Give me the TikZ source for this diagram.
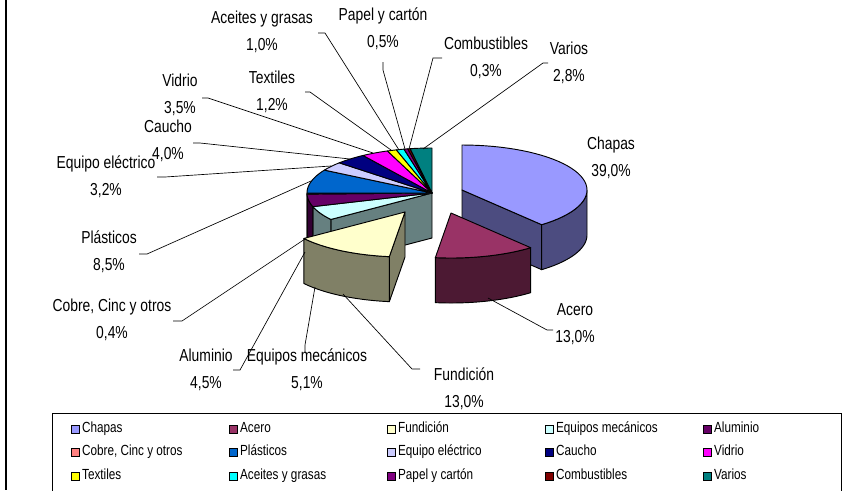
\documentclass[tikz,border=0pt]{standalone}
\usepackage{fontspec}
\setmainfont{Liberation Sans}[FakeStretch=0.8]
\usepackage{xcolor}
\usetikzlibrary{positioning}
\definecolor{ColChapas}{RGB}{153,153,255}
\definecolor{ColAcero}{RGB}{153,51,102}
\definecolor{ColFundicion}{RGB}{255,255,204}
\definecolor{ColEquipos}{RGB}{204,255,255}
\definecolor{ColAluminio}{RGB}{102,0,102}
\definecolor{ColCobre}{RGB}{255,128,128}
\definecolor{ColPlasticos}{RGB}{0,102,204}
\definecolor{ColElectrico}{RGB}{204,204,255}
\definecolor{ColCaucho}{RGB}{0,0,128}
\definecolor{ColVidrio}{RGB}{255,0,255}
\definecolor{ColTextiles}{RGB}{255,255,0}
\definecolor{ColAceites}{RGB}{0,255,255}
\definecolor{ColPapel}{RGB}{128,0,128}
\definecolor{ColCombus}{RGB}{128,0,0}
\definecolor{ColVarios}{RGB}{0,128,128}

\newcommand\pierx{125}
\newcommand\piery{45}
\newcommand\piedep{45}
\newcommand\pietop[5]{%
  \filldraw[face, fill=#5] (#1,#2) -- plot[domain=#3:#4, samples=40] ({#1+\pierx*sin(\x)},{#2-\piery*cos(\x)}) -- cycle;}
\newcommand\pieside[5]{%
  \filldraw[face, fill=#5!50!black] plot[domain=#3:#4, samples=30] ({#1+\pierx*sin(\x)},{#2-\piery*cos(\x)})
    -- plot[domain=0:1, samples=30] ({#1+\pierx*sin(#4+(#3-#4)*\x)},{#2+\piedep-\piery*cos(#4+(#3-#4)*\x)}) -- cycle;}
\newcommand\pieradial[4]{%
  \filldraw[face, fill=#4!50!black] (#1,#2) -- ({#1+\pierx*sin(#3)},{#2-\piery*cos(#3)})
    -- ++(0,\piedep) -- (#1,{#2+\piedep}) -- cycle;}

\begin{document}
\begin{tikzpicture}[x=0.75pt, y=-0.75pt,
    face/.style={draw=black, line width=0.7pt, line join=round},
    leader/.style={draw=black, line width=0.5pt},
    lbl/.style={align=center, inner sep=0pt, font=\fontsize{13}{20}\selectfont},
    legkey/.style={draw=black, line width=0.5pt, minimum size=5.8pt, inner sep=0pt},
    legtxt/.style={inner sep=0pt, text height=7.6pt, text depth=2.4pt, font=\fontsize{11}{13}\selectfont}
  ]
  \useasboundingbox (0,0) rectangle (848,490);
  \draw[line width=0.8pt] (6,0) -- (6,490);

  \pieradial{432}{193}{234}{ColEquipos}
  \pieside{432}{193}{234}{252.36}{ColEquipos}
  \pieside{432}{193}{252.36}{268.56}{ColAluminio}
  \pieside{432}{193}{268.56}{270}{ColCobre}
  \foreach \a/\b/\c in {234/252.36/ColEquipos, 252.36/268.56/ColAluminio, 268.56/270/ColCobre,
      270/300.6/ColPlasticos, 300.6/312.12/ColElectrico, 312.12/326.52/ColCaucho,
      326.52/339.12/ColVidrio, 339.12/343.44/ColTextiles, 343.44/347.04/ColAceites,
      347.04/348.84/ColPapel, 348.84/349.92/ColCombus, 349.92/360/ColVarios}
    {\pietop{432}{193}{\a}{\b}{\c}}

  \pieradial{462}{190}{140.4}{ColChapas}
  \pieside{462}{190}{90}{140.4}{ColChapas}
  \pietop{462}{190}{0}{140.4}{ColChapas}

  \pieradial{405}{212}{187.2}{ColFundicion}
  \pieside{405}{212}{187.2}{234}{ColFundicion}
  \pietop{405}{212}{187.2}{234}{ColFundicion}

  \pieside{451}{213}{140.4}{187.2}{ColAcero}
  \pietop{451}{213}{140.4}{187.2}{ColAcero}

  \node[lbl] (lChapas) at (611,158) {Chapas\\39,0\%};
  \node[lbl] (lAcero) at (575,324) {Acero\\13,0\%};
  \node[lbl] (lFundicion) at (464,389) {Fundición\\13,0\%};
  \node[lbl] (lEquipos) at (307,370) {Equipos mecánicos\\5,1\%};
  \node[lbl] (lAluminio) at (206,370) {Aluminio\\4,5\%};
  \node[lbl] (lCobre) at (112,320) {Cobre, Cinc y otros\\0,4\%};
  \node[lbl] (lPlasticos) at (109,252) {Plásticos\\8,5\%};
  \node[lbl] (lElectrico) at (106,177) {Equipo eléctrico\\3,2\%};
  \node[lbl] (lCaucho) at (168,141) {Caucho\\4,0\%};
  \node[lbl] (lVidrio) at (180,95) {Vidrio\\3,5\%};
  \node[lbl] (lTextiles) at (272,92) {Textiles\\1,2\%};
  \node[lbl] (lAceites) at (262,32) {Aceites y grasas\\1,0\%};
  \node[lbl] (lPapel) at (383,29) {Papel y cartón\\0,5\%};
  \node[lbl] (lCombus) at (486,58) {Combustibles\\0,3\%};
  \node[lbl] (lVarios) at (569,63) {Varios\\2,8\%};

  \coordinate (tAcero) at (553,330);      \coordinate (pAcero) at (488,298);
  \coordinate (tFundicion) at (420,369);  \coordinate (pFundicion) at (343,294);
  \coordinate (tEquipos) at (305,352);    \coordinate (pEquipos) at (315,287);
  \coordinate (tAluminio) at (233,370);   \coordinate (pAluminio) at (305,252);
  \coordinate (tCobre) at (173,321);      \coordinate (pCobre) at (305,239);
  \coordinate (tPlasticos) at (139,254);  \coordinate (pPlasticos) at (311,181);
  \coordinate (tElectrico) at (157,177);  \coordinate (pElectrico) at (331,166);
  \coordinate (tCaucho) at (193,143);     \coordinate (pCaucho) at (350,159);
  \coordinate (tVidrio) at (202,98);      \coordinate (pVidrio) at (373,153);
  \coordinate (tTextiles) at (305,92);    \coordinate (pTextiles) at (391,150);
  \coordinate (tAceites) at (318,33);     \coordinate (pAceites) at (399,150);
  \coordinate (tPapel) at (383,62);       \coordinate (pPapel) at (405,149);
  \coordinate (tCombus) at (442,58);      \coordinate (pCombus) at (409,149);
  \coordinate (tVarios) at (548,63);      \coordinate (pVarios) at (423,149);

  \draw[leader] (tAcero) -- ++(-6,0) -- (pAcero);
  \draw[leader] (tFundicion) -- ++(-8,0) -- (pFundicion);
  \draw[leader] (tEquipos) -- ++(0,-7) -- (pEquipos);
  \draw[leader] (tAluminio) -- ++(7,0) -- (pAluminio);
  \draw[leader] (tCobre) -- ++(9,0) -- (pCobre);
  \draw[leader] (tPlasticos) -- ++(8,0) -- (pPlasticos);
  \draw[leader] (tElectrico) -- ++(8,0) -- (pElectrico);
  \draw[leader] (tCaucho) -- ++(7,0) -- (pCaucho);
  \draw[leader] (tVidrio) -- ++(6,0) -- (pVidrio);
  \draw[leader] (tTextiles) -- ++(5,0) -- (pTextiles);
  \draw[leader] (tAceites) -- ++(7,0) -- (pAceites);
  \draw[leader] (tPapel) -- ++(0,8) -- (pPapel);
  \draw[leader] (tCombus) -- ++(-9,0) -- (pCombus);
  \draw[leader] (tVarios) -- ++(-5,0) -- (pVarios);

  \draw[line width=0.6pt] (52,500) |- (841,413) -- (841,500);
  \foreach \c/\t [count=\i from 0] in {ColChapas/Chapas, ColAcero/Acero, ColFundicion/Fundición,
      ColEquipos/Equipos mecánicos, ColAluminio/Aluminio, ColCobre/{Cobre, Cinc y otros},
      ColPlasticos/Plásticos, ColElectrico/Equipo eléctrico, ColCaucho/Caucho, ColVidrio/Vidrio,
      ColTextiles/Textiles, ColAceites/Aceites y grasas, ColPapel/Papel y cartón,
      ColCombus/Combustibles, ColVarios/Varios}
  {
    \pgfmathsetmacro\lx{75+158*mod(\i,5)}
    \pgfmathsetmacro\ly{429+23.5*floor(\i/5)}
    \node[legkey, fill=\c] (k\i) at (\lx,\ly) {};
    \node[legtxt, right=2pt of k\i] (t\i) {\t};
  }
\end{tikzpicture}
\end{document}
